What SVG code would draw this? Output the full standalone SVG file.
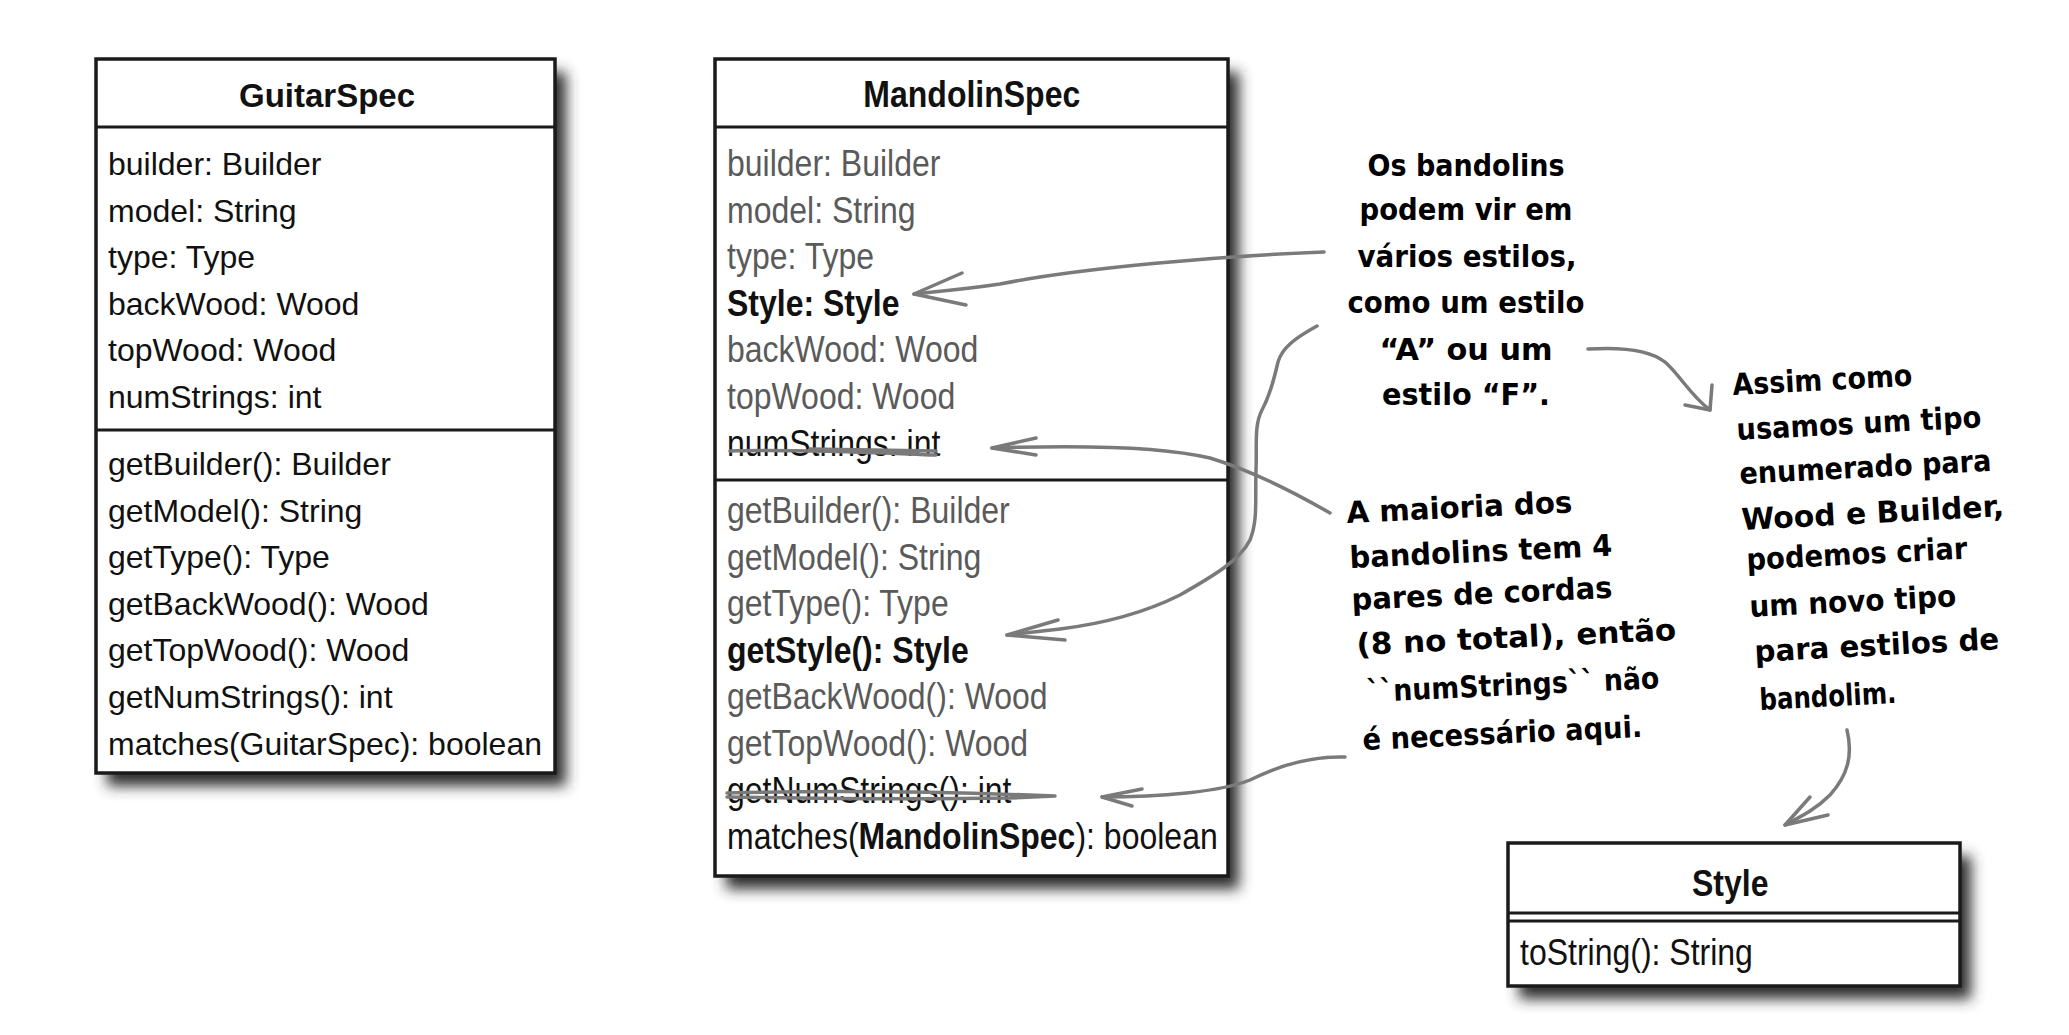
<svg xmlns="http://www.w3.org/2000/svg" width="2069" height="1035" viewBox="0 0 2069 1035">
<defs>
<filter id="blur" x="-20%" y="-20%" width="140%" height="140%"><feGaussianBlur stdDeviation="7"/></filter>
<style>
.box{fill:#fff;stroke:#1a1a1a;stroke-width:3.5}
.div{stroke:#1a1a1a;stroke-width:3}
.sh{fill:#2e2e2e;filter:url(#blur)}
.t{font-family:"Liberation Sans",Arial,sans-serif;font-size:32px;fill:#111}
.tm{font-family:"Liberation Sans",Arial,sans-serif;font-size:37px;fill:#111}
.g{fill:#5a5a5a}
.b{font-weight:bold}
.title{font-weight:bold;text-anchor:middle}
.hand{font-family:"DejaVu Sans",sans-serif;font-weight:bold;font-size:30px;fill:#000}
.c{text-anchor:middle}
.ar{fill:none;stroke:#7a7a7a;stroke-width:3.5;stroke-linecap:round;stroke-linejoin:round}
</style>
</defs>
<rect width="2069" height="1035" fill="#fff"/>

<g id="GuitarSpec">
<rect class="sh" x="107" y="72" width="459" height="714"/>
<rect class="box" x="96" y="59" width="459" height="714"/>
<line class="div" x1="96" y1="127" x2="555" y2="127"/>
<line class="div" x1="96" y1="430" x2="555" y2="430"/>
<text class="t title" x="327" y="107" style="font-size:33px">GuitarSpec</text>
<text class="t" x="108" y="175">builder: Builder</text>
<text class="t" x="108" y="221.6">model: String</text>
<text class="t" x="108" y="268.2">type: Type</text>
<text class="t" x="108" y="314.8">backWood: Wood</text>
<text class="t" x="108" y="361.4">topWood: Wood</text>
<text class="t" x="108" y="408">numStrings: int</text>
<text class="t" x="108" y="475">getBuilder(): Builder</text>
<text class="t" x="108" y="521.6">getModel(): String</text>
<text class="t" x="108" y="568.2">getType(): Type</text>
<text class="t" x="108" y="614.8">getBackWood(): Wood</text>
<text class="t" x="108" y="661.4">getTopWood(): Wood</text>
<text class="t" x="108" y="708">getNumStrings(): int</text>
<text class="t" x="108" y="754.6">matches(GuitarSpec): boolean</text>
</g>

<g id="MandolinSpec">
<rect class="sh" x="726" y="72" width="513" height="817"/>
<rect class="box" x="715" y="59" width="513" height="817"/>
<line class="div" x1="715" y1="127" x2="1228" y2="127"/>
<line class="div" x1="715" y1="480" x2="1228" y2="480"/>
<g transform="matrix(0.865 0 0 1 727 0)">
<text class="tm title" x="283" y="107">MandolinSpec</text>
<text class="tm g" x="0" y="176">builder: Builder</text>
<text class="tm g" x="0" y="222.6">model: String</text>
<text class="tm g" x="0" y="269.2">type: Type</text>
<text class="tm b" x="0" y="315.8">Style: Style</text>
<text class="tm g" x="0" y="362.4">backWood: Wood</text>
<text class="tm g" x="0" y="409">topWood: Wood</text>
<text class="tm" x="0" y="455.6">numStrings: int</text>
<text class="tm g" x="0" y="523">getBuilder(): Builder</text>
<text class="tm g" x="0" y="569.6">getModel(): String</text>
<text class="tm g" x="0" y="616.2">getType(): Type</text>
<text class="tm b" x="0" y="662.8">getStyle(): Style</text>
<text class="tm g" x="0" y="709.4">getBackWood(): Wood</text>
<text class="tm g" x="0" y="756">getTopWood(): Wood</text>
<text class="tm" x="0" y="802.6">getNumStrings(): int</text>
<text class="tm" x="0" y="849.2">matches(<tspan class="b">MandolinSpec</tspan>): boolean</text>
</g>
</g>

<g id="Style">
<rect class="sh" x="1519" y="856" width="452" height="143"/>
<rect class="box" x="1508" y="843" width="452" height="143"/>
<line class="div" x1="1508" y1="913" x2="1960" y2="913"/>
<line class="div" x1="1508" y1="921" x2="1960" y2="921"/>
<g transform="matrix(0.865 0 0 1 1520 0)">
<text class="tm title" x="243" y="896">Style</text>
<text class="tm" x="0" y="965">toString(): String</text>
</g>
</g>

<g id="note-estilos">
<text class="hand c" x="1466" y="176" textLength="197" lengthAdjust="spacingAndGlyphs">Os bandolins</text>
<text class="hand c" x="1466" y="220" textLength="213" lengthAdjust="spacingAndGlyphs">podem vir em</text>
<text class="hand c" x="1467" y="267" textLength="219" lengthAdjust="spacingAndGlyphs">vários estilos,</text>
<text class="hand c" x="1466" y="313" textLength="237" lengthAdjust="spacingAndGlyphs">como um estilo</text>
<text class="hand c" x="1466" y="360" textLength="173" lengthAdjust="spacingAndGlyphs">“A” ou um</text>
<text class="hand c" x="1466" y="405" textLength="168" lengthAdjust="spacingAndGlyphs">estilo “F”.</text>
</g>

<g id="note-cordas">
<text class="hand" x="1347" y="523" transform="rotate(-2.7 1347 523)" textLength="226" lengthAdjust="spacingAndGlyphs">A maioria dos</text>
<text class="hand" x="1350" y="568" transform="rotate(-2.7 1350 568)" textLength="263" lengthAdjust="spacingAndGlyphs">bandolins tem 4</text>
<text class="hand" x="1352" y="610" transform="rotate(-2.7 1352 610)" textLength="261" lengthAdjust="spacingAndGlyphs">pares de cordas</text>
<text class="hand" x="1357" y="655" transform="rotate(-2.7 1357 655)" textLength="320" lengthAdjust="spacingAndGlyphs">(8 no total), então</text>
<text class="hand" x="1367" y="702" transform="rotate(-2.7 1367 702)" textLength="293" lengthAdjust="spacingAndGlyphs">``numStrings`` não</text>
<text class="hand" x="1363" y="750" transform="rotate(-2.7 1363 750)" textLength="280" lengthAdjust="spacingAndGlyphs">é necessário aqui.</text>
</g>

<g id="note-tipo">
<text class="hand" x="1733" y="395" transform="rotate(-3 1733 395)" textLength="180" lengthAdjust="spacingAndGlyphs">Assim como</text>
<text class="hand" x="1737" y="440" transform="rotate(-3 1737 440)" textLength="245" lengthAdjust="spacingAndGlyphs">usamos um tipo</text>
<text class="hand" x="1740" y="484" transform="rotate(-3 1740 484)" textLength="252" lengthAdjust="spacingAndGlyphs">enumerado para</text>
<text class="hand" x="1742" y="530" transform="rotate(-3 1742 530)" textLength="263" lengthAdjust="spacingAndGlyphs">Wood e Builder,</text>
<text class="hand" x="1747" y="570" transform="rotate(-3 1747 570)" textLength="221" lengthAdjust="spacingAndGlyphs">podemos criar</text>
<text class="hand" x="1750" y="617" transform="rotate(-3 1750 617)" textLength="207" lengthAdjust="spacingAndGlyphs">um novo tipo</text>
<text class="hand" x="1755" y="662" transform="rotate(-3 1755 662)" textLength="245" lengthAdjust="spacingAndGlyphs">para estilos de</text>
<text class="hand" x="1760" y="710" transform="rotate(-3 1760 710)" textLength="137" lengthAdjust="spacingAndGlyphs">bandolim.</text>
</g>

<g id="connectors">
<path class="ar" d="M730,451 C800,449 880,453 936,455 M810,449 L936,451"/>
<path class="ar" d="M727,793 C850,790 980,793 1055,796 M727,797 C800,798 880,800 1010,798 L1055,796"/>
<path class="ar" d="M1324,252 C1220,256 1080,268 1000,284 C960,290 930,292 914,294"/>
<path class="ar" d="M962,273 L914,294 L966,305"/>
<path class="ar" d="M1317,326 C1295,338 1282,348 1278,362 C1274,380 1270,395 1262,410 C1254,425 1257,445 1256,470 C1255,500 1258,520 1250,540 C1240,560 1215,575 1180,595 C1140,615 1100,624 1060,629 L1007,635"/>
<path class="ar" d="M1058,620 L1007,635 L1065,640"/>
<path class="ar" d="M1330,513 C1290,490 1250,470 1210,458 C1160,446 1080,445 992,448"/>
<path class="ar" d="M1036,438 L992,448 L1036,455"/>
<path class="ar" d="M1345,757 C1310,756 1280,765 1250,780 C1220,792 1160,797 1102,797"/>
<path class="ar" d="M1142,789 L1102,797 L1132,806"/>
<path class="ar" d="M1588,349 C1620,347 1650,350 1665,362 C1680,375 1690,395 1710,410"/>
<path class="ar" d="M1712,385 L1710,410 L1685,405"/>
<path class="ar" d="M1847,730 C1853,755 1848,775 1830,795 C1815,810 1800,817 1785,825"/>
<path class="ar" d="M1810,797 L1785,825 L1828,815"/>
</g>
</svg>
